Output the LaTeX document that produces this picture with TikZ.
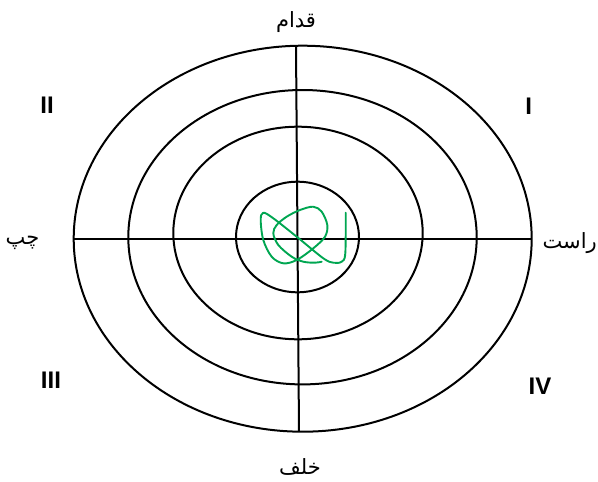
\documentclass[tikz,border=0pt]{standalone}
\usepackage{fontspec}
\setmainfont{Liberation Sans}
\newfontfamily\arabicfont[Script=Arabic]{DejaVu Sans}
\TeXXeTstate=1
\definecolor{scribble}{HTML}{00A651}
\tikzset{
  ring/.style={line width=2pt, draw=black},
  axis/.style={line width=2pt, draw=black},
  dirlabel/.style={inner sep=0pt, font=\arabicfont\fontsize{21}{24}\selectfont},
  quadlabel/.style={inner sep=0pt, font=\bfseries\fontsize{24}{26}\selectfont},
  trace/.style={line width=1.9pt, draw=scribble, line cap=round, line join=round}
}
\begin{document}
\begin{tikzpicture}[x=1pt,y=-1pt]
\useasboundingbox (0,0) rectangle (598,482);
% rings
\draw[ring] (302.7,238.7) ellipse [x radius=229, y radius=193];
\draw[ring] (302.5,237.2) ellipse [x radius=174.2, y radius=147.2];
\draw[ring] (298,233) ellipse [x radius=124.7, y radius=106.3];
\draw[ring] (297.5,237) ellipse [x radius=61.5, y radius=55.3];
% axes
\coordinate (top) at (296,45.7);
\coordinate (bot) at (299,431.7);
\coordinate (lft) at (73.7,239);
\coordinate (rgt) at (531.7,239);
\draw[axis] (top) -- (bot);
\draw[axis] (lft) -- (rgt);
% scribble
\draw[trace] plot[smooth, tension=0.55] coordinates {
 (345.7,212.7) (345.3,253.3) (341.7,261.7) (333.3,262.7) (323.3,258.3)
 (296.7,236.7) (273.3,218.3) (263.3,212.7) (260.7,220) (263.3,240)
 (271.7,256.7) (283.3,263.3) (296.7,260) (313.3,248.3) (325,236.7)
 (327.3,225) (321.7,211.7) (313.3,206.7) (300,210) (286.7,216.7)
 (276.7,225) (273.3,233.3) (278.3,245) (291.7,256.7) (303.3,261.7)
 (315,262.7) (321.7,261.7)};
% direction labels
\node[dirlabel] (front) at (296,22) {\beginR قدام\endR};
\node[dirlabel] (back) at (300,467) {\beginR خلف\endR};
\node[dirlabel] (left) at (22.5,243) {\beginR چپ\endR};
\node[dirlabel, anchor=east] (right) at (597,243) {\beginR راست\endR};
% quadrant labels
\node[quadlabel] (q1) at (528.6,106.5) {I};
\node[quadlabel] (q2) at (47,105.5) {II};
\node[quadlabel] (q3) at (51,380.5) {III};
\node[quadlabel] (q4) at (540,386.5) {IV};
\end{tikzpicture}
\end{document}
